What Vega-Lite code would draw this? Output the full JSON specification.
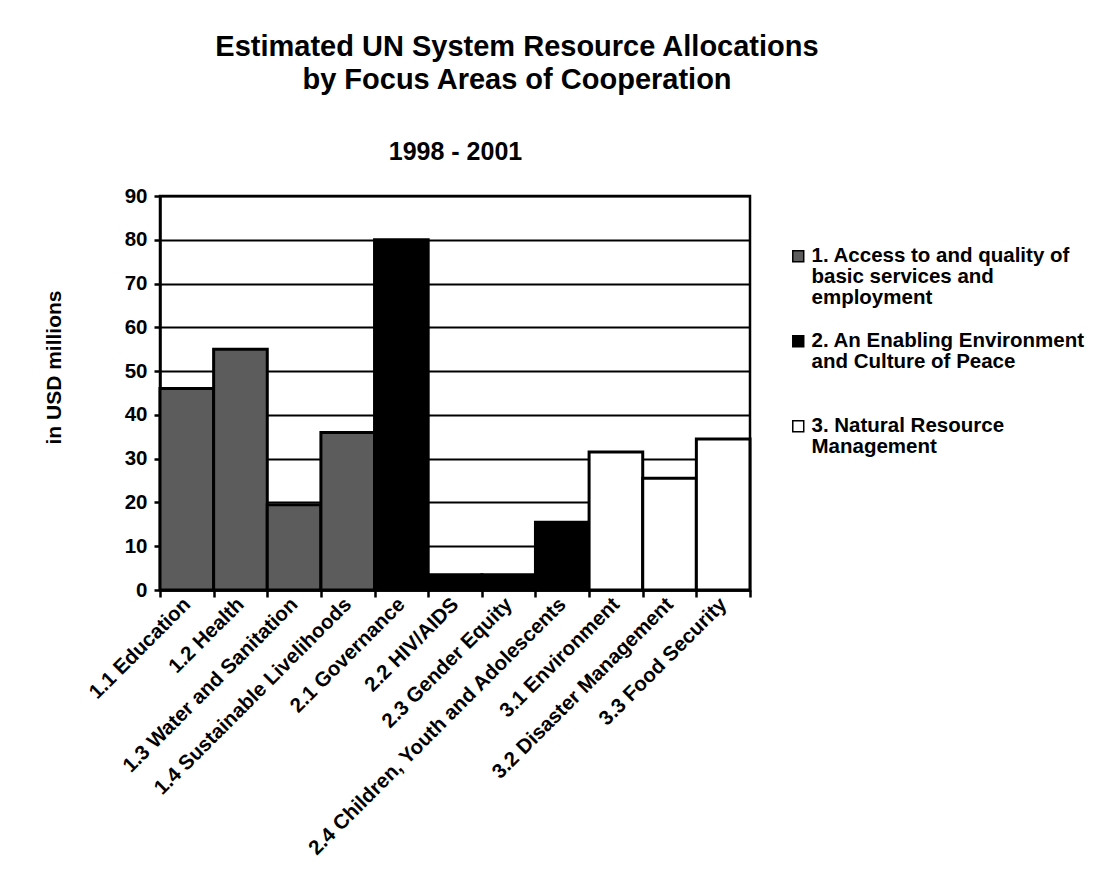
{
  "$schema": "https://vega.github.io/schema/vega-lite/v6.json",
  "width": 590,
  "height": 394,
  "padding": {"left": 43, "top": 33, "right": 10, "bottom": 10},
  "background": "white",
  "title": {
    "text": ["Estimated UN System Resource Allocations", "by Focus Areas of Cooperation"],
    "font": "Liberation Sans",
    "fontSize": 29,
    "fontWeight": "bold",
    "lineHeight": 33,
    "color": "black",
    "anchor": "middle",
    "dx": 62,
    "offset": 44
  },
  "data": {
    "values": [
      {"area": "1.1 Education", "value": 46, "group": "1. Access to and quality of basic services and employment"},
      {"area": "1.2 Health", "value": 55, "group": "1. Access to and quality of basic services and employment"},
      {"area": "1.3 Water and Sanitation", "value": 19.5, "group": "1. Access to and quality of basic services and employment"},
      {"area": "1.4 Sustainable Livelihoods", "value": 36, "group": "1. Access to and quality of basic services and employment"},
      {"area": "2.1 Governance", "value": 80, "group": "2. An Enabling Environment and Culture of Peace"},
      {"area": "2.2 HIV/AIDS", "value": 3.5, "group": "2. An Enabling Environment and Culture of Peace"},
      {"area": "2.3 Gender Equity", "value": 3.5, "group": "2. An Enabling Environment and Culture of Peace"},
      {"area": "2.4 Children, Youth and Adolescents", "value": 15.5, "group": "2. An Enabling Environment and Culture of Peace"},
      {"area": "3.1 Environment", "value": 31.5, "group": "3. Natural Resource Management"},
      {"area": "3.2 Disaster Management", "value": 25.5, "group": "3. Natural Resource Management"},
      {"area": "3.3 Food Security", "value": 34.5, "group": "3. Natural Resource Management"}
    ]
  },
  "resolve": {"axis": {"x": "independent"}},
  "layer": [
    {
      "mark": {"type": "bar", "stroke": "black", "strokeWidth": 3},
      "encoding": {
        "x": {
          "field": "area", "type": "nominal", "sort": null,
          "scale": {"paddingInner": 0, "paddingOuter": 0},
          "axis": {
            "title": null,
            "labelAngle": -45,
            "labelAlign": "right",
            "labelBaseline": "middle",
            "labelFont": "Liberation Sans",
            "labelFontSize": 20.5,
            "labelFontWeight": "bold",
            "labelColor": "black",
            "labelPadding": 4,
            "labelLimit": 500,
            "tickBand": "extent",
            "tickColor": "black",
            "tickSize": 7,
            "tickWidth": 2.5,
            "domainColor": "black",
            "domainWidth": 2.5
          }
        },
        "y": {
          "field": "value", "type": "quantitative",
          "scale": {"domain": [0, 90]},
          "axis": {
            "title": "in USD millions",
            "titleFont": "Liberation Sans",
            "titleFontSize": 21,
            "titleFontWeight": "bold",
            "titleColor": "black",
            "titlePadding": 60,
            "titleY": 171,
            "values": [0, 10, 20, 30, 40, 50, 60, 70, 80, 90],
            "labelFont": "Liberation Sans",
            "labelFontSize": 20.5,
            "labelFontWeight": "bold",
            "labelColor": "black",
            "labelPadding": 7,
            "tickColor": "black",
            "tickSize": 6,
            "tickWidth": 2.5,
            "domainColor": "black",
            "domainWidth": 2.5,
            "grid": true,
            "gridColor": "black",
            "gridWidth": 2
          }
        },
        "fill": {
          "field": "group", "type": "nominal",
          "scale": {"range": ["#5c5c5c", "black", "white"]},
          "legend": {
            "title": null,
            "orient": "none",
            "legendX": 628,
            "legendY": 50,
            "symbolType": "square",
            "symbolSize": 120,
            "symbolStrokeColor": "black",
            "symbolStrokeWidth": 1.5,
            "labelFont": "Liberation Sans",
            "labelFontSize": 20.5,
            "labelFontWeight": "bold",
            "labelColor": "black",
            "labelLimit": 500,
            "labelOffset": 3,
            "gridAlign": "all",
            "rowPadding": 22,
            "encode": {"labels": {"update": {"lineHeight": {"value": 21}}}},
            "labelExpr": "datum.value == '1. Access to and quality of basic services and employment' ? ['1. Access to and quality of', 'basic services and', 'employment'] : datum.value == '2. An Enabling Environment and Culture of Peace' ? ['2. An Enabling Environment', 'and Culture of Peace'] : ['3. Natural Resource', 'Management']"
          }
        }
      }
    },
    {
      "mark": {"type": "bar", "opacity": 0},
      "encoding": {
        "x": {
          "field": "area", "type": "nominal", "sort": null,
          "axis": {
            "orient": "top",
            "title": "1998 - 2001",
            "titleFont": "Liberation Sans",
            "titleFontSize": 25,
            "titleFontWeight": "bold",
            "titleColor": "black",
            "titlePadding": 32,
            "labels": false,
            "ticks": false,
            "domain": false
          }
        },
        "y": {"field": "value", "type": "quantitative"}
      }
    }
  ],
  "config": {
    "view": {"stroke": "black", "strokeWidth": 2.5}
  }
}
